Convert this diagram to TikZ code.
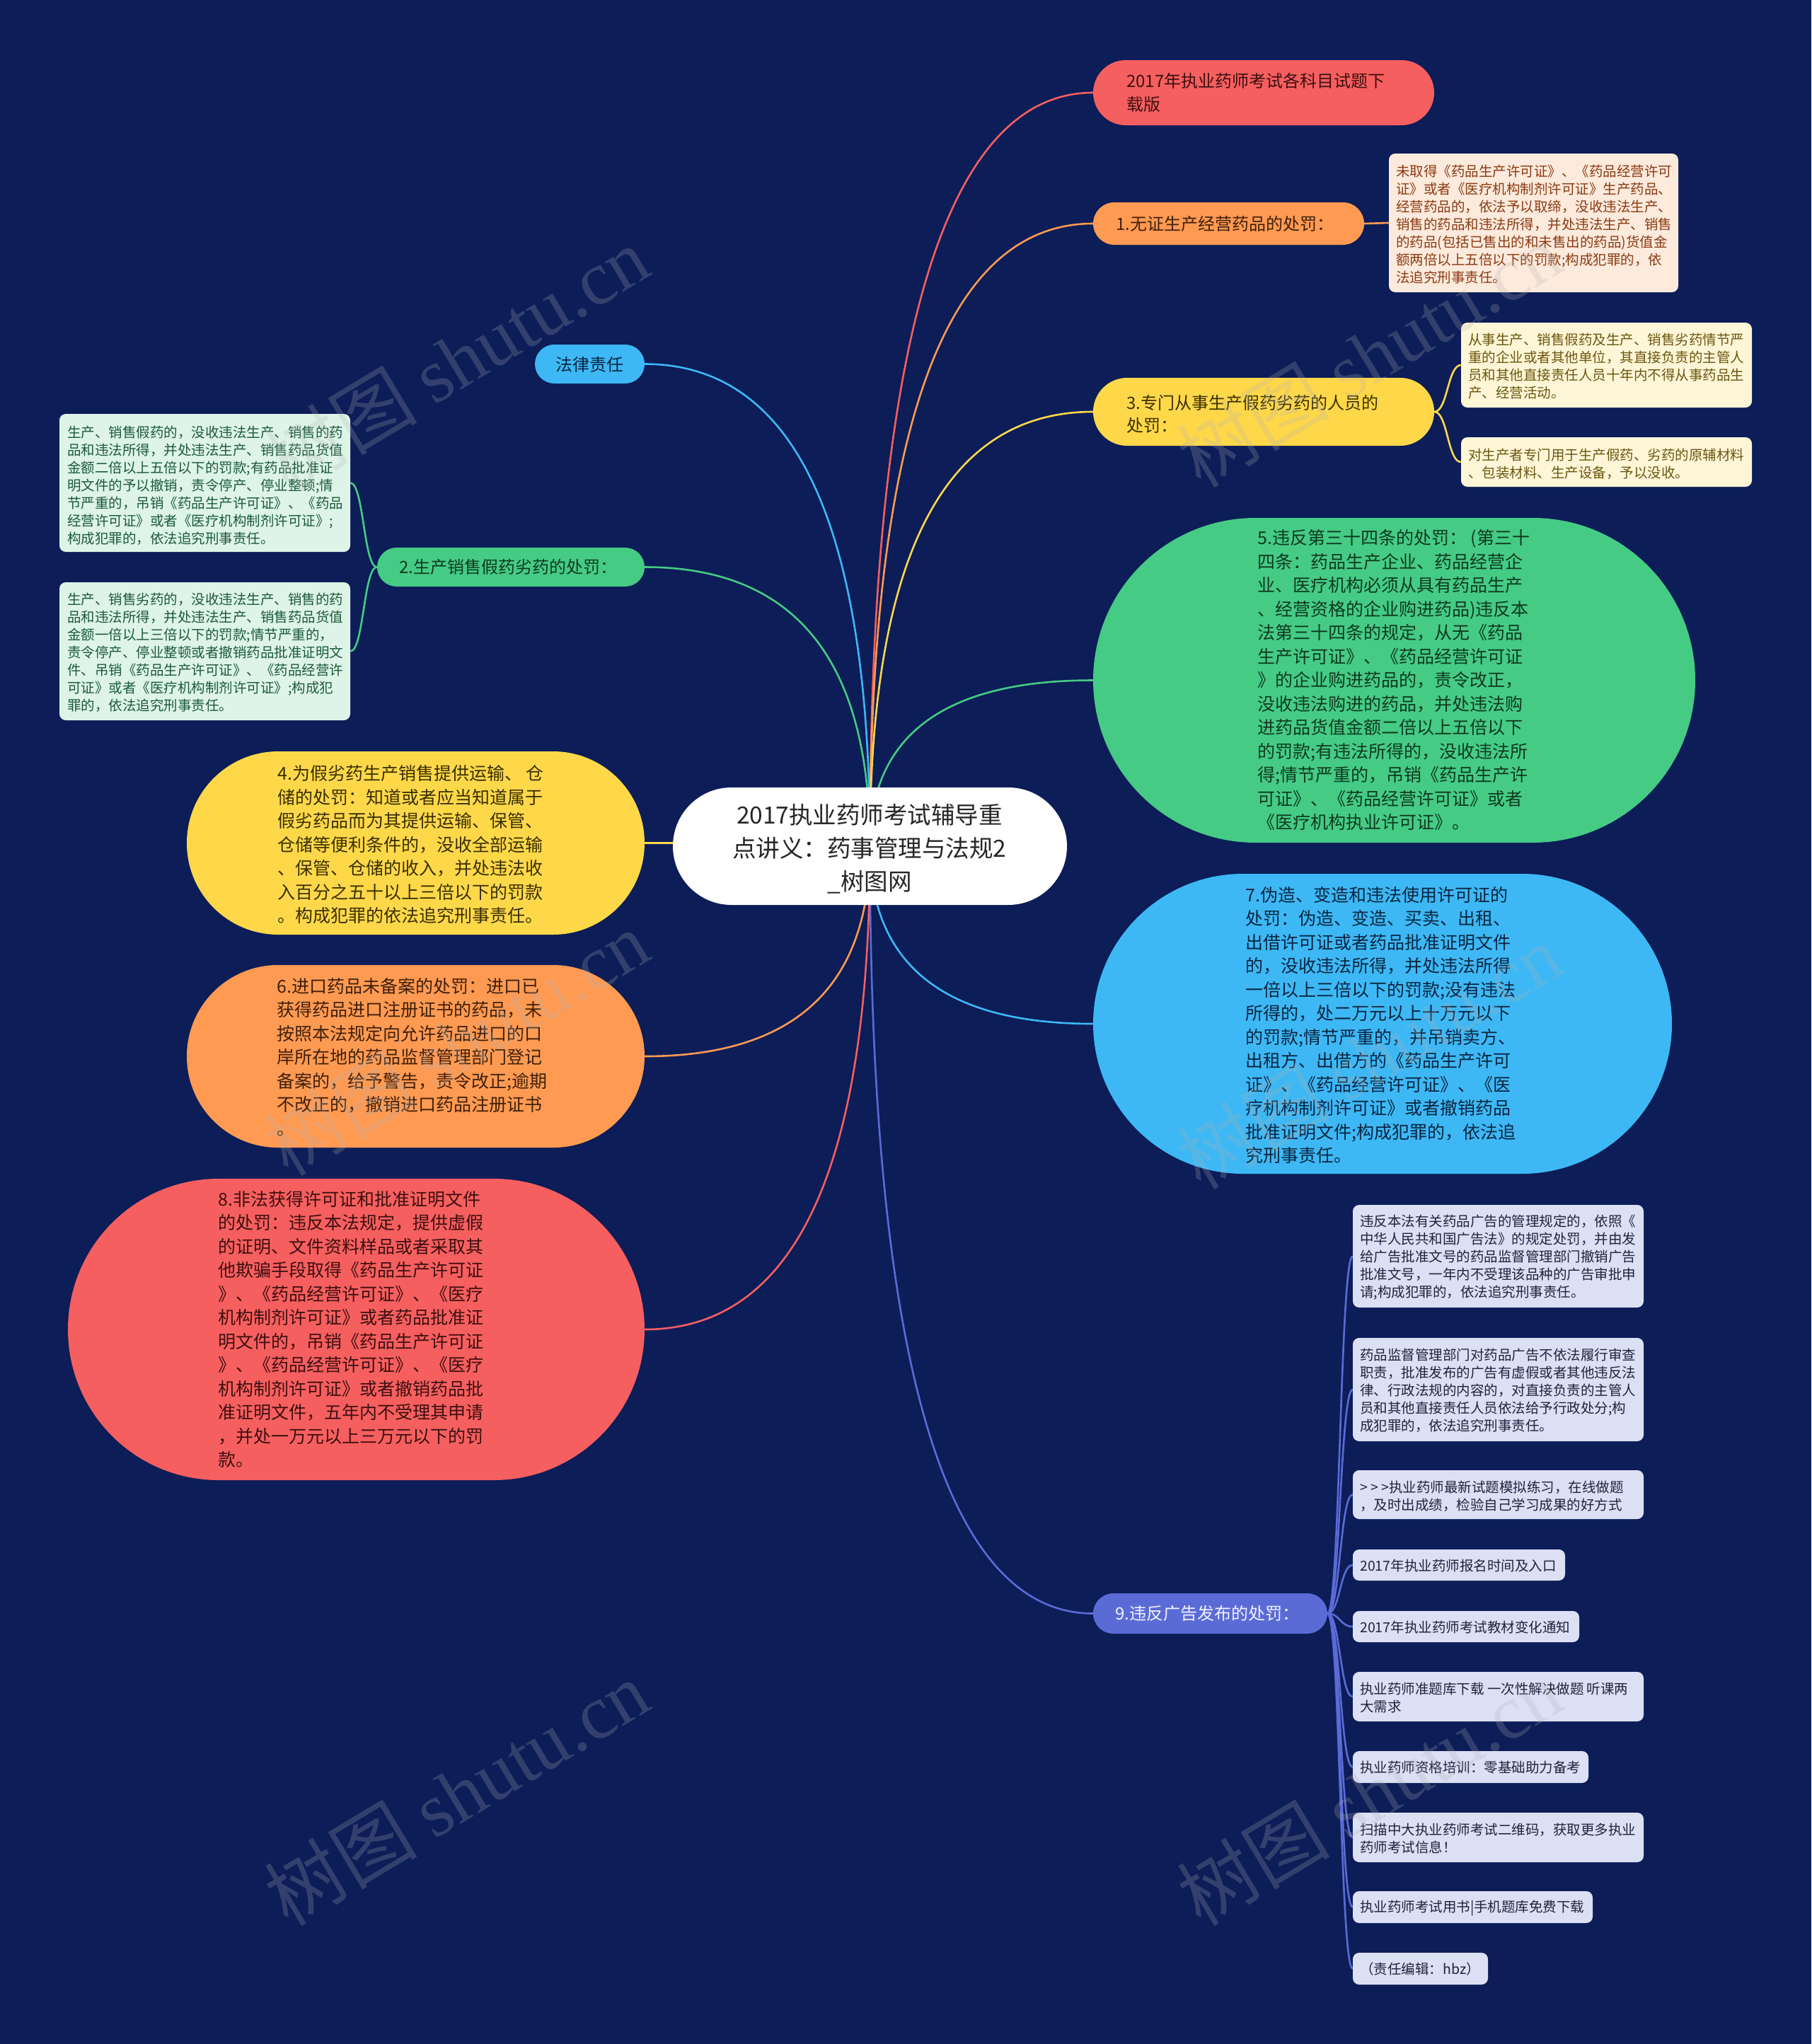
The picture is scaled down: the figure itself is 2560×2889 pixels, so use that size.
\documentclass[tikz,border=0pt]{standalone}
\usepackage{fontspec}
\setmainfont{Noto Sans CJK SC}
\newfontfamily\wmlatin{Liberation Serif}
\usetikzlibrary{shapes.misc,calc}
\pgfdeclarelayer{bg}
\pgfdeclarelayer{fg}
\pgfsetlayers{bg,main,fg}
\definecolor{bgc}{HTML}{0C1D58}
\definecolor{cred}{HTML}{F65F5F}
\definecolor{corg}{HTML}{FF9A52}
\definecolor{cyel}{HTML}{FFD84A}
\definecolor{cgrn}{HTML}{45CB84}
\definecolor{cblu}{HTML}{3DB8F5}
\definecolor{cind}{HTML}{5B6BD6}
\definecolor{tred}{HTML}{3D0F10}
\definecolor{torg}{HTML}{40200A}
\definecolor{tyel}{HTML}{3A3000}
\definecolor{tgrn}{HTML}{0E3A20}
\definecolor{tblu}{HTML}{0A2540}
\definecolor{tind}{HTML}{F0F2FF}
\definecolor{fpea}{HTML}{FCEADC}
\definecolor{tpea}{HTML}{8B3A12}
\definecolor{fyl}{HTML}{FFF6D7}
\definecolor{tyl}{HTML}{6B5710}
\definecolor{fmt}{HTML}{DEF4E8}
\definecolor{tmt}{HTML}{1C5A3A}
\definecolor{flv}{HTML}{DCE0F4}
\definecolor{tlv}{HTML}{1F2340}
\newcommand{\rootlink}[2]{%
  \coordinate (qa) at (root.center |- #1);
  \draw[conn,#2] (root.center) .. controls ($(root.center)!0.667!(qa)$) and ($(#1)!0.667!(qa)$) .. (#1);}
\newcommand{\sublink}[3]{%
  \coordinate (qm) at ($(#1)!0.5!(#2)$);
  \draw[conn,#3] (#1) .. controls (qm |- #1) and (qm |- #2) .. (#2);}
\tikzset{
  pill/.style={rounded rectangle, inner sep=0pt, draw=none},
  leaf/.style={rectangle, rounded corners=9pt, inner sep=0pt, draw=none},
  txt/.style={anchor=west, inner sep=0pt, align=left},
  bigfont/.style={font=\fontsize{25}{33.5}\selectfont},
  pillfont/.style={font=\fontsize{24}{33}\selectfont},
  leaffont/.style={font=\fontsize{19.5}{25}\selectfont},
  conn/.style={line width=2.6pt},
  wm/.style={rotate=31, text=gray!60, opacity=0.24, inner sep=0pt, font=\fontsize{108}{108}\selectfont}
}
\begin{document}
\begin{tikzpicture}[x=1pt,y=-1pt]
\useasboundingbox (0,0) rectangle (2560,2889);

% root
\node[pill, fill=white, minimum width=557pt, minimum height=166pt] (root) at (1229.5,1196) {};
\node[inner sep=0pt, align=center, text=black!85, font=\fontsize{33.5}{47}\selectfont] (roott) at (1229,1200) {2017执业药师考试辅导重\\点讲义：药事管理与法规2\\\_树图网};

% right side
\node[pill, fill=cred, minimum width=482pt, minimum height=92pt] (n0) at (1786,131) {};
\node[txt, pillfont, text=tred] (n0t) at (1592,131) {2017年执业药师考试各科目试题下\\载版};

\node[pill, fill=corg, minimum width=383pt, minimum height=60pt] (n1) at (1736.5,316) {};
\node[txt, pillfont, text=torg] (n1t) at (1577,316) {1.无证生产经营药品的处罚：};
\node[leaf, fill=fpea, minimum width=409pt, minimum height=196pt] (l1) at (2167.5,315) {};
\node[txt, leaffont, text=tpea] (l1t) at (1973,317) {未取得《药品生产许可证》、《药品经营许可\\证》或者《医疗机构制剂许可证》生产药品、\\经营药品的，依法予以取缔，没收违法生产、\\销售的药品和违法所得，并处违法生产、销售\\的药品(包括已售出的和未售出的药品)货值金\\额两倍以上五倍以下的罚款;构成犯罪的，依\\法追究刑事责任。};

\node[pill, fill=cyel, minimum width=482pt, minimum height=96pt] (n3) at (1786,582) {};
\node[txt, font=\fontsize{24}{32}\selectfont, text=tyel] (n3t) at (1592,585) {3.专门从事生产假药劣药的人员的\\处罚：};
\node[leaf, fill=fyl, minimum width=411pt, minimum height=120pt] (l3a) at (2270.5,516) {};
\node[txt, leaffont, text=tyl] (l3at) at (2075,517.5) {从事生产、销售假药及生产、销售劣药情节严\\重的企业或者其他单位，其直接负责的主管人\\员和其他直接责任人员十年内不得从事药品生\\产、经营活动。};
\node[leaf, fill=fyl, minimum width=411pt, minimum height=70pt] (l3b) at (2270.5,653) {};
\node[txt, leaffont, text=tyl] (l3bt) at (2075,655.5) {对生产者专门用于生产假药、劣药的原辅材料\\、包装材料、生产设备，予以没收。};

\node[pill, fill=cgrn, minimum width=851pt, minimum height=459pt] (n5) at (1970.5,961.5) {};
\node[txt, bigfont, text=tgrn] (n5t) at (1777,961) {5.违反第三十四条的处罚： (第三十\\四条：药品生产企业、药品经营企\\业、医疗机构必须从具有药品生产\\、经营资格的企业购进药品)违反本\\法第三十四条的规定，从无《药品\\生产许可证》、《药品经营许可证\\》的企业购进药品的，责令改正，\\没收违法购进的药品，并处违法购\\进药品货值金额二倍以上五倍以下\\的罚款;有违法所得的，没收违法所\\得;情节严重的，吊销《药品生产许\\可证》、《药品经营许可证》或者\\《医疗机构执业许可证》。};

\node[pill, fill=cblu, minimum width=818pt, minimum height=424pt] (n7) at (1954,1447) {};
\node[txt, bigfont, text=tblu] (n7t) at (1760,1449) {7.伪造、变造和违法使用许可证的\\处罚：伪造、变造、买卖、出租、\\出借许可证或者药品批准证明文件\\的，没收违法所得，并处违法所得\\一倍以上三倍以下的罚款;没有违法\\所得的，处二万元以上十万元以下\\的罚款;情节严重的，并吊销卖方、\\出租方、出借方的《药品生产许可\\证》、《药品经营许可证》、《医\\疗机构制剂许可证》或者撤销药品\\批准证明文件;构成犯罪的，依法追\\究刑事责任。};

\node[pill, fill=cind, minimum width=331pt, minimum height=57pt] (n9) at (1710.5,2280.5) {};
\node[txt, pillfont, text=tind] (n9t) at (1576,2280.5) {9.违反广告发布的处罚：};

\node[leaf, fill=flv, minimum width=411pt, minimum height=145pt] (l9a) at (2117.5,1775.5) {};
\node[txt, leaffont, text=tlv] (l9at) at (1922,1777) {违反本法有关药品广告的管理规定的，依照《\\中华人民共和国广告法》的规定处罚，并由发\\给广告批准文号的药品监督管理部门撤销广告\\批准文号，一年内不受理该品种的广告审批申\\请;构成犯罪的，依法追究刑事责任。};
\node[leaf, fill=flv, minimum width=411pt, minimum height=146pt] (l9b) at (2117.5,1964) {};
\node[txt, leaffont, text=tlv] (l9bt) at (1922,1965) {药品监督管理部门对药品广告不依法履行审查\\职责，批准发布的广告有虚假或者其他违反法\\律、行政法规的内容的，对直接负责的主管人\\员和其他直接责任人员依法给予行政处分;构\\成犯罪的，依法追究刑事责任。};
\node[leaf, fill=flv, minimum width=411pt, minimum height=69pt] (l9c) at (2117.5,2112.5) {};
\node[txt, leaffont, text=tlv] (l9ct) at (1922,2114.5) {> > >执业药师最新试题模拟练习，在线做题\\，及时出成绩，检验自己学习成果的好方式};
\node[leaf, fill=flv, minimum width=300pt, minimum height=44pt] (l9d) at (2062,2212) {};
\node[txt, leaffont, text=tlv] (l9dt) at (1922,2213) {2017年执业药师报名时间及入口};
\node[leaf, fill=flv, minimum width=320pt, minimum height=44pt] (l9e) at (2072,2299) {};
\node[txt, leaffont, text=tlv] (l9et) at (1922,2300) {2017年执业药师考试教材变化通知};
\node[leaf, fill=flv, minimum width=411pt, minimum height=70pt] (l9f) at (2117.5,2398) {};
\node[txt, leaffont, text=tlv] (l9ft) at (1922,2399.5) {执业药师准题库下载 一次性解决做题 听课两\\大需求};
\node[leaf, fill=flv, minimum width=333pt, minimum height=45pt] (l9g) at (2078.5,2497.5) {};
\node[txt, leaffont, text=tlv] (l9gt) at (1922,2498.5) {执业药师资格培训：零基础助力备考};
\node[leaf, fill=flv, minimum width=411pt, minimum height=70pt] (l9h) at (2117.5,2597) {};
\node[txt, leaffont, text=tlv] (l9ht) at (1922,2598.5) {扫描中大执业药师考试二维码，获取更多执业\\药师考试信息！};
\node[leaf, fill=flv, minimum width=339pt, minimum height=45pt] (l9i) at (2081.5,2695.5) {};
\node[txt, leaffont, text=tlv] (l9it) at (1922,2696.5) {执业药师考试用书|手机题库免费下载};
\node[leaf, fill=flv, minimum width=191pt, minimum height=45pt] (l9j) at (2007.5,2782.5) {};
\node[txt, leaffont, text=tlv] (l9jt) at (1922,2783.5) {（责任编辑：hbz）};

% left side
\node[pill, fill=cblu, minimum width=155pt, minimum height=55pt] (m0) at (833.5,514.5) {};
\node[inner sep=0pt, pillfont, text=tblu] (m0t) at (833.5,515) {法律责任};

\node[pill, fill=cgrn, minimum width=378pt, minimum height=55pt] (m2) at (722,801.5) {};
\node[txt, pillfont, text=tgrn] (m2t) at (564,801.5) {2.生产销售假药劣药的处罚：};
\node[leaf, fill=fmt, minimum width=411pt, minimum height=195pt] (k2a) at (289.5,682.5) {};
\node[txt, leaffont, text=tmt] (k2at) at (95,686) {生产、销售假药的，没收违法生产、销售的药\\品和违法所得，并处违法生产、销售药品货值\\金额二倍以上五倍以下的罚款;有药品批准证\\明文件的予以撤销，责令停产、停业整顿;情\\节严重的，吊销《药品生产许可证》、《药品\\经营许可证》或者《医疗机构制剂许可证》;\\构成犯罪的，依法追究刑事责任。};
\node[leaf, fill=fmt, minimum width=411pt, minimum height=195pt] (k2b) at (289.5,920.5) {};
\node[txt, leaffont, text=tmt] (k2bt) at (95,922) {生产、销售劣药的，没收违法生产、销售的药\\品和违法所得，并处违法生产、销售药品货值\\金额一倍以上三倍以下的罚款;情节严重的，\\责令停产、停业整顿或者撤销药品批准证明文\\件、吊销《药品生产许可证》、《药品经营许\\可证》或者《医疗机构制剂许可证》;构成犯\\罪的，依法追究刑事责任。};

\node[pill, fill=cyel, minimum width=647pt, minimum height=259pt] (m4) at (587.5,1191.5) {};
\node[txt, bigfont, text=tyel] (m4t) at (392,1194) {4.为假劣药生产销售提供运输、 仓\\储的处罚：知道或者应当知道属于\\假劣药品而为其提供运输、保管、\\仓储等便利条件的，没收全部运输\\、保管、仓储的收入，并处违法收\\入百分之五十以上三倍以下的罚款\\。构成犯罪的依法追究刑事责任。};

\node[pill, fill=corg, minimum width=647pt, minimum height=258pt] (m6) at (587.5,1493) {};
\node[txt, bigfont, text=torg] (m6t) at (391,1494) {6.进口药品未备案的处罚：进口已\\获得药品进口注册证书的药品，未\\按照本法规定向允许药品进口的口\\岸所在地的药品监督管理部门登记\\备案的，给予警告，责令改正;逾期\\不改正的，撤销进口药品注册证书\\。};

\node[pill, fill=cred, minimum width=815pt, minimum height=426pt] (m8) at (503.5,1879) {};
\node[txt, bigfont, text=tred] (m8t) at (308,1879) {8.非法获得许可证和批准证明文件\\的处罚：违反本法规定，提供虚假\\的证明、文件资料样品或者采取其\\他欺骗手段取得《药品生产许可证\\》、《药品经营许可证》、《医疗\\机构制剂许可证》或者药品批准证\\明文件的，吊销《药品生产许可证\\》、《药品经营许可证》、《医疗\\机构制剂许可证》或者撤销药品批\\准证明文件，五年内不受理其申请\\，并处一万元以上三万元以下的罚\\款。};

% background and connectors
\begin{pgfonlayer}{bg}
\fill[bgc] (0,0) rectangle (2560,2889);
\rootlink{n0.west}{cred}
\rootlink{n1.west}{corg}
\rootlink{n3.west}{cyel}
\rootlink{n5.west}{cgrn}
\rootlink{n7.west}{cblu}
\rootlink{n9.west}{cind}
\rootlink{m0.east}{cblu}
\rootlink{m2.east}{cgrn}
\rootlink{m4.east}{cyel}
\rootlink{m6.east}{corg}
\rootlink{m8.east}{cred}
\sublink{n1.east}{l1.west}{corg}
\sublink{n3.east}{l3a.west}{cyel}
\sublink{n3.east}{l3b.west}{cyel}
\sublink{m2.west}{k2a.east}{cgrn}
\sublink{m2.west}{k2b.east}{cgrn}
\sublink{n9.east}{l9a.west}{cind}
\sublink{n9.east}{l9b.west}{cind}
\sublink{n9.east}{l9c.west}{cind}
\sublink{n9.east}{l9d.west}{cind}
\sublink{n9.east}{l9e.west}{cind}
\sublink{n9.east}{l9f.west}{cind}
\sublink{n9.east}{l9g.west}{cind}
\sublink{n9.east}{l9h.west}{cind}
\sublink{n9.east}{l9i.west}{cind}
\sublink{n9.east}{l9j.west}{cind}
\end{pgfonlayer}

% watermarks
\begin{pgfonlayer}{fg}
\node[wm] (w1) at (645,507) {树图 {\wmlatin shutu.cn}};
\node[wm] (w2) at (1935,501) {树图 {\wmlatin shutu.cn}};
\node[wm] (w3) at (645,1474) {树图 {\wmlatin shutu.cn}};
\node[wm] (w4) at (1935,1493) {树图 {\wmlatin shutu.cn}};
\node[wm] (w5) at (645,2534) {树图 {\wmlatin shutu.cn}};
\node[wm] (w6) at (1935,2534) {树图 {\wmlatin shutu.cn}};
\end{pgfonlayer}
\end{tikzpicture}
\end{document}
